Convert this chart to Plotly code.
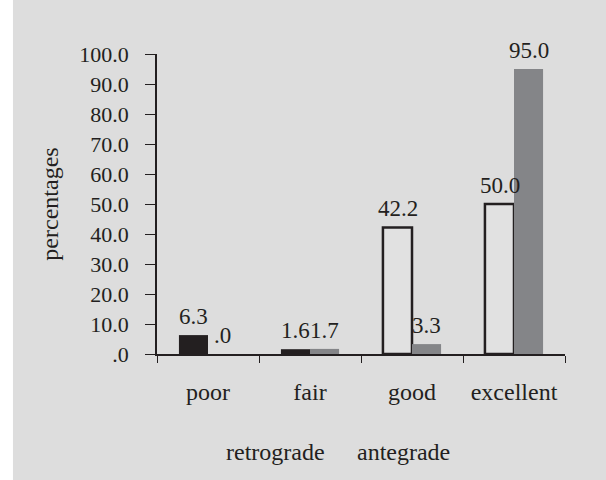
import plotly.graph_objects as go

categories = ["poor", "fair", "good", "excellent"]
retrograde = [6.3, 1.6, 42.2, 50.0]
antegrade = [0.0, 1.7, 3.3, 95.0]
retrograde_labels = ["6.3", "1.6", "42.2", "50.0"]
antegrade_labels = [".0", "1.7", "3.3", "95.0"]
series_names = ["retrograde", "antegrade"]
y_tickvals = [0, 10, 20, 30, 40, 50, 60, 70, 80, 90, 100]
y_ticktext = [".0", "10.0", "20.0", "30.0", "40.0", "50.0", "60.0", "70.0", "80.0", "90.0", "100.0"]

INK = "#231f20"
BG = "#dddddd"
FONT = "Liberation Serif"

fig = go.Figure()
fig.add_trace(go.Bar(
    name=series_names[0], x=categories, y=retrograde,
    marker=dict(color=[INK, INK, "#e1e1e1", "#e1e1e1"],
                line=dict(color=INK, width=[0, 0, 2.5, 2.5])),
))
fig.add_trace(go.Bar(
    name=series_names[1], x=categories, y=antegrade,
    marker=dict(color="#848588", line=dict(width=0)),
))

annotations = []
for series, labels, shift in ((retrograde, retrograde_labels, -14.5),
                              (antegrade, antegrade_labels, 14.5)):
    for cat, val, lab in zip(categories, series, labels):
        annotations.append(dict(
            x=cat, y=val, xref="x", yref="y", text=lab, showarrow=False,
            xanchor="center", yanchor="bottom", xshift=shift, yshift=4,
            font=dict(family=FONT, size=23, color=INK)))

annotations += [
    dict(text=series_names[0], xref="paper", yref="paper",
         x=0.2904, y=-0.3267, showarrow=False, xanchor="center", yanchor="middle",
         font=dict(family=FONT, size=24, color=INK)),
    dict(text=series_names[1], xref="paper", yref="paper",
         x=0.604, y=-0.3267, showarrow=False, xanchor="center", yanchor="middle",
         font=dict(family=FONT, size=24, color=INK)),
]

fig.update_layout(
    width=606, height=480,
    margin=dict(l=157, r=41, t=54, b=126),
    paper_bgcolor=BG, plot_bgcolor=BG,
    barmode="group", bargap=0.43, bargroupgap=0,
    showlegend=False,
    font=dict(family=FONT, size=22, color=INK),
    xaxis=dict(
        showline=True, linecolor=INK, linewidth=1.5,
        ticks="outside", ticklen=7, tickcolor=INK, tickwidth=1.2,
        tickson="boundaries", ticklabelstandoff=15,
        showgrid=False, zeroline=False,
        tickfont=dict(family=FONT, size=24, color=INK),
    ),
    yaxis=dict(
        range=[0, 100], showline=True, linecolor=INK, linewidth=1.5,
        ticks="outside", ticklen=10, tickcolor=INK, tickwidth=1.2,
        tickvals=y_tickvals, ticktext=y_ticktext, ticklabelstandoff=12,
        showgrid=False, zeroline=False,
        tickfont=dict(family=FONT, size=22, color=INK),
        title=dict(text="percentages", standoff=14,
                   font=dict(family=FONT, size=24, color=INK)),
    ),
    shapes=[dict(type="rect", xref="paper", yref="paper",
                 x0=-0.40, x1=-0.353, y0=-0.5, y1=1.2,
                 fillcolor="white", line=dict(width=0), layer="below")],
    annotations=annotations,
)

fig.write_html("out.html", config={"displayModeBar": False},
               post_script="document.body.style.margin='0';document.body.style.padding='0';")
